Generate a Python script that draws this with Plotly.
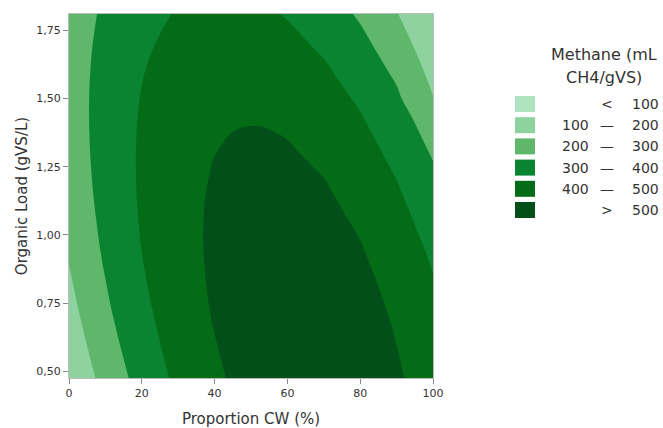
import plotly.graph_objects as go

# ---- data ----
proportion_cw = [0, 10, 20, 30, 40, 45, 50, 55, 60, 70, 80, 90, 100]
organic_load = [0.475, 0.7, 0.925, 1.05, 1.15, 1.25, 1.325, 1.375, 1.425, 1.5, 1.6, 1.7, 1.81]

methane_0475 = [111.1, 233.9, 337.1, 420.7, 484.7, 509.4, 529.1, 544.0, 553.9, 559.2, 544.8, 510.8, 457.2]
methane_0700 = [165.1, 279.7, 374.7, 450.1, 505.9, 526.5, 542.1, 552.9, 558.7, 555.7, 533.1, 490.9, 429.1]
methane_0925 = [206.1, 312.5, 399.3, 466.5, 514.1, 530.6, 542.1, 548.8, 550.6, 539.4, 508.6, 458.2, 388.2]
methane_1050 = [223.3, 325.2, 407.4, 470.1, 513.1, 527.3, 536.6, 541.0, 540.4, 524.7, 489.3, 434.3, 359.8]
methane_1150 = [234.3, 332.5, 411.1, 470.1, 509.5, 521.9, 529.3, 531.8, 529.5, 510.1, 471.1, 412.5, 334.3]
methane_1250 = [242.7, 337.3, 412.2, 467.6, 503.3, 513.9, 519.5, 520.2, 516.0, 493.0, 450.3, 388.1, 306.2]
methane_1325 = [247.3, 339.2, 411.4, 464.0, 497.0, 506.2, 510.5, 509.8, 504.3, 478.5, 433.1, 368.2, 283.6]
methane_1375 = [249.6, 339.6, 410.0, 460.8, 492.0, 500.3, 503.6, 502.1, 495.6, 468.0, 420.8, 354.0, 267.6]
methane_1425 = [251.3, 339.5, 408.1, 457.0, 486.4, 493.8, 496.2, 493.7, 486.4, 457.0, 407.9, 339.3, 251.1]
methane_1500 = [252.6, 338.1, 403.9, 450.1, 476.8, 482.7, 483.8, 480.0, 471.2, 439.1, 387.3, 315.9, 203.0]
methane_1600 = [252.1, 333.9, 396.1, 438.7, 461.7, 465.8, 465.1, 459.4, 448.8, 413.0, 357.6, 282.6, 172.5]
methane_1700 = [249.1, 327.2, 385.8, 424.7, 444.1, 446.4, 443.8, 436.3, 424.0, 384.5, 325.5, 246.8, 138.0]
methane_1810 = [242.9, 317.0, 371.6, 406.5, 421.8, 422.1, 417.5, 408.1, 393.7, 350.2, 287.1, 204.5, 102.2]

methane_rows = [methane_0475, methane_0700, methane_0925, methane_1050, methane_1150,
                methane_1250, methane_1325, methane_1375, methane_1425, methane_1500,
                methane_1600, methane_1700, methane_1810]

levels = [100, 200, 300, 400, 500]
band_colors = ['#aee3bf', '#8ed39f', '#5fb76b', '#0b8431', '#046c17', '#024f19']

x_ticks = [0, 20, 40, 60, 80, 100]
y_ticks = [0.50, 0.75, 1.00, 1.25, 1.50, 1.75]
y_ticktext = ['0,50', '0,75', '1,00', '1,25', '1,50', '1,75']

legend_title = ['Methane (mL', 'CH4/gVS)']

# ---- stepwise colour scale so each band gets one flat colour ----
step = levels[1] - levels[0]
zspan = levels[-1]  # colormap spans 0 .. 500
colorscale = []
edges = [0.0] + [lv / zspan for lv in levels[:-1]] + [0.95, 1.0]
for i, col in enumerate(band_colors):
    colorscale.append([edges[i], col])
    colorscale.append([edges[i + 1], col])

font_family = 'DejaVu Sans'
text_color = '#333333'

fig = go.Figure()
fig.add_trace(go.Contour(
    x=proportion_cw,
    y=organic_load,
    z=methane_rows,
    contours=dict(start=levels[0], end=levels[-1], size=step,
                  coloring='fill', showlines=False),
    line=dict(width=0, smoothing=1.3),
    colorscale=colorscale,
    showscale=False,
    hoverinfo='skip',
))

W, H = 663, 428
L, R, T, B = 69, 433, 14, 378   # plot area in pixels


def px_x(px):
    return (px - L) / (R - L)


def px_y(py):
    return (B - py) / (B - T)


shapes = []
annotations = []
labels_left = [''] + [str(v) for v in levels[:-1]] + ['']
labels_mid = ['<'] + ['\u2014'] * (len(levels) - 1) + ['>']
labels_right = [str(levels[0])] + [str(v) for v in levels[1:]] + [str(levels[-1])]

row0, pitch = 104, 21.2
for i, col in enumerate(band_colors):
    cy = row0 + pitch * i
    shapes.append(dict(type='rect', xref='paper', yref='paper',
                       x0=px_x(515), x1=px_x(535), y0=px_y(cy + 8), y1=px_y(cy - 8),
                       fillcolor=col, line=dict(width=0)))
    common = dict(xref='paper', yref='paper', showarrow=False, yanchor='middle',
                  y=px_y(cy), font=dict(family=font_family, size=14, color=text_color))
    if labels_left[i]:
        annotations.append(dict(text=labels_left[i], x=px_x(591), xanchor='right', **common))
    annotations.append(dict(text=labels_mid[i], x=px_x(607), xanchor='center', **common))
    annotations.append(dict(text=labels_right[i], x=px_x(630), xanchor='left', **common))

for j, line in enumerate(legend_title):
    annotations.append(dict(text=line, xref='paper', yref='paper', showarrow=False,
                            x=px_x(604), y=px_y(54 + 23 * j), xanchor='center', yanchor='middle',
                            font=dict(family=font_family, size=16, color=text_color)))

fig.update_layout(
    width=W, height=H,
    margin=dict(l=L, r=W - R, t=T, b=H - B, pad=0),
    paper_bgcolor='white', plot_bgcolor='white',
    font=dict(family=font_family, color=text_color),
    shapes=shapes,
    annotations=annotations,
    showlegend=False,
)
fig.update_xaxes(
    range=[0, 100], tickvals=x_ticks, ticks='outside', ticklen=5, tickcolor='#888888',
    tickfont=dict(size=11, color=text_color), showline=True, linecolor='#bbbbbb', mirror=True,
    showgrid=False, zeroline=False, automargin=False,
    title=dict(text='Proportion CW (%)', font=dict(size=15, color=text_color), standoff=15),
)
fig.update_yaxes(
    range=[organic_load[0], organic_load[-1]], tickvals=y_ticks, ticktext=y_ticktext,
    ticks='outside', ticklen=5, tickcolor='#888888',
    tickfont=dict(size=11, color=text_color), showline=True, linecolor='#bbbbbb', mirror=True,
    showgrid=False, zeroline=False, automargin=False,
    title=dict(text='Organic Load (gVS/L)', font=dict(size=15, color=text_color), standoff=5),
)

# remove the browser's default body margin so the 663x428 figure fills the window exactly
fig.write_html('out.html',
               config={'displayModeBar': False},
               post_script="document.body.style.margin='0';document.body.style.overflow='hidden';")
